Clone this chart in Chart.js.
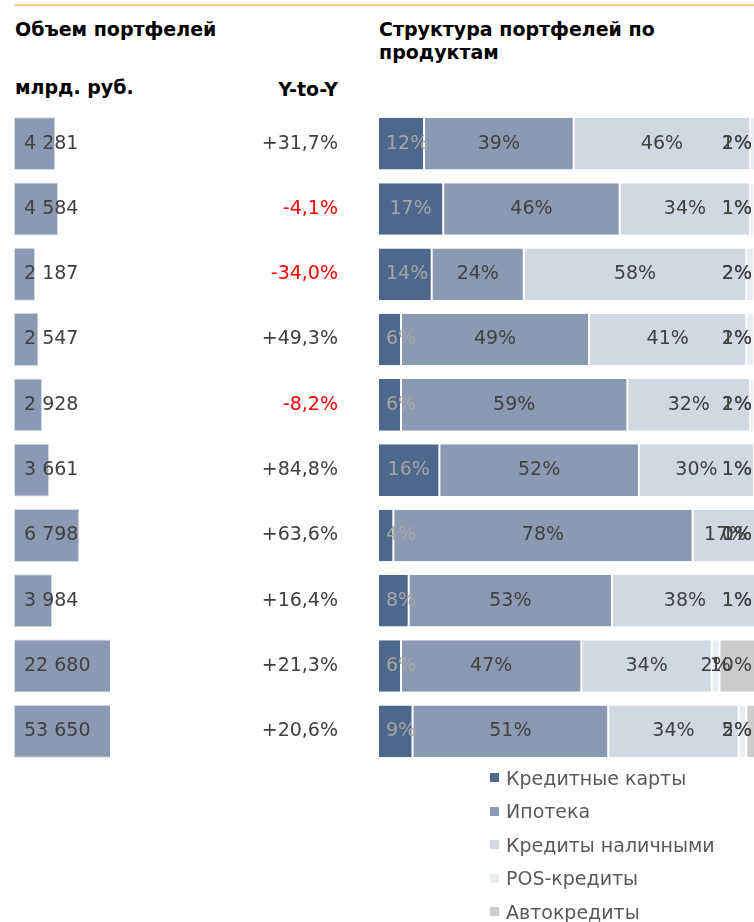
<!DOCTYPE html>
<html>
<head>
<meta charset="utf-8">
<script src="https://cdn.jsdelivr.net/npm/chart.js@4/dist/chart.umd.min.js"></script>
<style>
html,body{margin:0;padding:0;width:754px;height:922px;overflow:hidden;background:#fff;font-family:"DejaVu Sans",sans-serif;}
.t{position:absolute;font-weight:bold;font-size:19px;color:#000;line-height:23px;white-space:nowrap;}
#topline{position:absolute;left:15px;top:4px;width:739px;height:2px;background:#FBC58E;}
#c1wrap{position:absolute;left:0;top:111px;width:360px;height:653px;}
#c2wrap{position:absolute;left:360px;top:111px;width:394px;height:653px;}
#legend{position:absolute;left:490px;top:761px;}
.li{height:33.5px;display:flex;align-items:center;font-size:19px;color:#595959;white-space:nowrap;}
.sw{width:9px;height:9px;margin-right:7px;flex:none;}
</style>
</head>
<body>
<div id="topline"></div>
<div class="t" style="left:15px;top:18px;">Объем портфелей</div>
<div class="t" style="left:15px;top:76px;">млрд. руб.</div>
<div class="t" style="right:416px;top:78px;">Y-to-Y</div>
<div class="t" style="left:379px;top:18px;">Структура портфелей по<br>продуктам</div>
<div id="c1wrap"><canvas id="c1"></canvas></div>
<div id="c2wrap"><canvas id="c2"></canvas></div>
<div id="legend"></div>
<script>
// ---- data ----
const categories = ['Банк 1','Банк 2','Банк 3','Банк 4','Банк 5','Банк 6','Банк 7','Банк 8','Банк 9','Банк 10'];
const volumes = [4281, 4584, 2187, 2547, 2928, 3661, 6798, 3984, 22680, 53650];
const yoy = [31.7, -4.1, -34.0, 49.3, -8.2, 84.8, 63.6, 16.4, 21.3, 20.6];
const seriesNames = ['Кредитные карты','Ипотека','Кредиты наличными','POS-кредиты','Автокредиты'];
const cards    = [12, 17, 14,  6,  6, 16,  4,  8,  6,  9];
const mortgage = [39, 46, 24, 49, 59, 52, 78, 53, 47, 51];
const cash     = [46, 34, 58, 41, 32, 30, 17, 38, 34, 34];
const pos      = [ 2,  1,  2,  2,  1,  1,  1,  1,  2,  2];
const auto     = [ 1,  1,  2,  1,  2,  1,  0,  1, 10,  5];
const seriesData = [cards, mortgage, cash, pos, auto];

const seriesColors = ['#4E678D','#8A9AB3','#D1D8E2','#E9ECF1','#CDCBCB'];
const labelColors  = ['#A6A6A6','#404040','#404040','#404040','#404040'];
const FONT = '19px "DejaVu Sans"';

Chart.defaults.font.family = '"DejaVu Sans", sans-serif';

function fmtVol(v){ return String(v).replace(/\B(?=(\d{3})+(?!\d))/g,' '); }
function fmtYoy(v){ return (v>0?'+':'') + v.toFixed(1).replace('.',',') + '%'; }

// ---- left chart ----
const leftLabels = {
  id:'leftLabels',
  afterDatasetsDraw(chart){
    const {ctx, chartArea} = chart;
    const meta = chart.getDatasetMeta(0);
    ctx.save();
    ctx.font = FONT;
    ctx.textBaseline = 'middle';
    meta.data.forEach((bar,i)=>{
      ctx.fillStyle = '#404040';
      ctx.textAlign = 'left';
      ctx.fillText(fmtVol(volumes[i]), chartArea.left + 10, bar.y);
      ctx.fillStyle = yoy[i] < 0 ? '#FF0000' : '#404040';
      ctx.textAlign = 'right';
      ctx.fillText(fmtYoy(yoy[i]), chart.width - 22, bar.y);
    });
    ctx.restore();
  }
};

new Chart(document.getElementById('c1'), {
  type:'bar',
  data:{
    labels: categories,
    datasets:[{
      label:'Объем портфелей',
      data: volumes,
      backgroundColor:'#8A9AB3',
      borderColor:'#D4DAE3',
      borderWidth:1,
      borderSkipped:false,
      categoryPercentage:1,
      barPercentage:0.81
    }]
  },
  options:{
    indexAxis:'y',
    responsive:true,
    maintainAspectRatio:false,
    animation:false,
    devicePixelRatio:1,
    layout:{padding:{left:14,right:250,top:0,bottom:0}},
    scales:{
      x:{display:false,min:0,max:10000},
      y:{display:false}
    },
    plugins:{legend:{display:false},tooltip:{enabled:false}}
  },
  plugins:[leftLabels]
});

// ---- right chart ----
const rightLabels = {
  id:'rightLabels',
  afterDatasetsDraw(chart){
    const {ctx, chartArea} = chart;
    ctx.save();
    ctx.font = FONT;
    ctx.textBaseline = 'middle';
    ctx.textAlign = 'center';
    chart.data.datasets.forEach((ds,di)=>{
      const meta = chart.getDatasetMeta(di);
      meta.data.forEach((bar,i)=>{
        const txt = ds.data[i] + '%';
        const w = ctx.measureText(txt).width;
        let cx = (bar.x + bar.base) / 2;
        cx = Math.min(cx, chartArea.right - 2 - w/2);
        cx = Math.max(cx, chartArea.left + 8 + w/2);
        ctx.fillStyle = labelColors[di];
        ctx.fillText(txt, cx, bar.y);
      });
    });
    ctx.restore();
  }
};

new Chart(document.getElementById('c2'), {
  type:'bar',
  data:{
    labels: categories,
    datasets: seriesNames.map((n,i)=>({
      label:n,
      data: seriesData[i],
      backgroundColor: seriesColors[i],
      borderColor:'#FFFFFF',
      borderWidth:{left:1,right:1,top:0,bottom:0},
      borderSkipped:false,
      categoryPercentage:1,
      barPercentage:0.79
    }))
  },
  options:{
    indexAxis:'y',
    responsive:true,
    maintainAspectRatio:false,
    animation:false,
    devicePixelRatio:1,
    layout:{padding:{left:18,right:0,top:0,bottom:0}},
    scales:{
      x:{display:false,stacked:true,min:0,max:98},
      y:{display:false,stacked:true}
    },
    plugins:{legend:{display:false},tooltip:{enabled:false}}
  },
  plugins:[rightLabels]
});

// ---- legend ----
const lg = document.getElementById('legend');
seriesNames.forEach((n,i)=>{
  const d = document.createElement('div');
  d.className = 'li';
  d.innerHTML = '<span class="sw" style="background:'+seriesColors[i]+'"></span><span>'+n+'</span>';
  lg.appendChild(d);
});
</script>
</body>
</html>
